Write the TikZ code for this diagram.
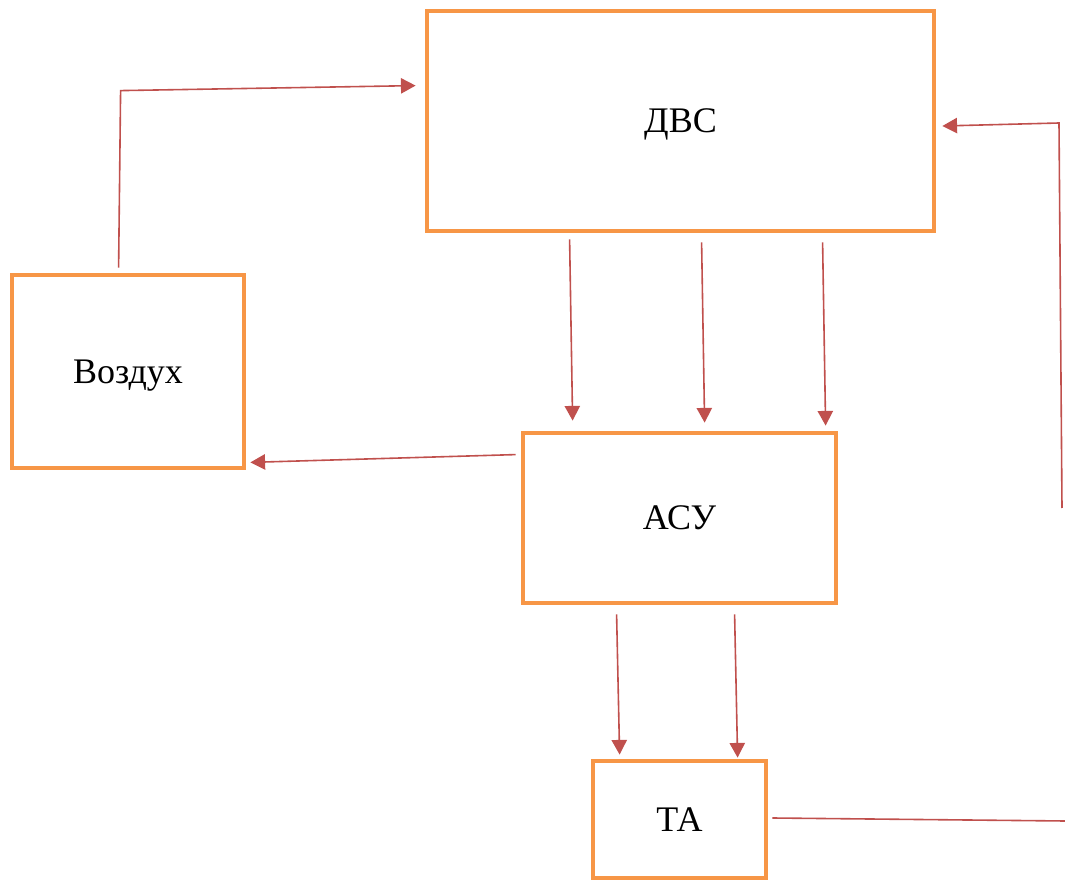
\documentclass[tikz,border=0pt]{standalone}
\usepackage{fontspec}
\setmainfont{Liberation Serif}
\usetikzlibrary{arrows.meta,calc}
\definecolor{boxorange}{HTML}{F79646}
\definecolor{arrred}{HTML}{C0504D}
\tikzset{
  blk/.style={draw=boxorange, line width=3.6pt, rectangle, inner sep=0pt, fill=white,
    font=\fontsize{27}{32}\selectfont, text height=17.9pt, text depth=0pt},
  arr/.style={draw=arrred, line width=1.2pt, -{Triangle[length=11pt,width=11.5pt]}},
  ln/.style={draw=arrred, line width=1.2pt}
}
\begin{document}
\begin{tikzpicture}[x=0.75pt,y=-0.75pt]
\useasboundingbox (0,0) rectangle (1065,880);
\node[blk, minimum width=380.25pt, minimum height=165pt] (dvs) at (680.5,121) {ДВС};
\node[blk, minimum width=174pt, minimum height=144.75pt] (air) at (128,371.5) {Воздух};
\node[blk, minimum width=234.75pt, minimum height=127.5pt] (asu) at (679.5,518) {АСУ};
\node[blk, minimum width=129.75pt, minimum height=87.75pt] (ta) at (679.5,819.5) {ТА};
% air -> dvs
\coordinate (c1) at ($(air.north west)+(111,-182)$);
\draw[arr] ($(air.north west)+(109,-5)$) -- (c1) -- ($(dvs.north west)+(-9,77)$);
% dvs -> asu
\draw[arr] ($(dvs.south west)+(145,6)$) -- ($(asu.north west)+(52,-10)$);
\draw[arr] ($(dvs.south west)+(277,9)$) -- ($(asu.north west)+(184,-8)$);
\draw[arr] ($(dvs.south west)+(398,9)$) -- ($(asu.north west)+(305,-5)$);
% asu -> air
\draw[arr] ($(asu.north west)+(-5,24)$) -- ($(air.south east)+(4,-8)$);
% asu -> ta
\draw[arr] ($(asu.south west)+(96,9)$) -- ($(ta.north west)+(29,-4)$);
\draw[arr] ($(asu.south west)+(214,9)$) -- ($(ta.north west)+(147,-1)$);
% ta -> right edge, right edge -> dvs
\coordinate (r1) at (1065,821);
\draw[ln] ($(ta.east)+(4,-1.5)$) -- (r1);
\coordinate (r2) at (1062,508);
\coordinate (r3) at (1059,123);
\draw[arr] (r2) -- (r3) -- ($(dvs.east)+(6,5)$);
\end{tikzpicture}
\end{document}
